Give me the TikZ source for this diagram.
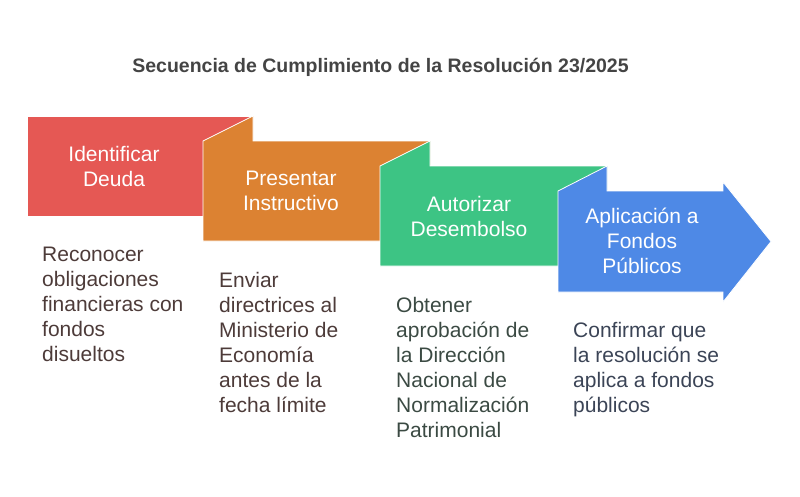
\documentclass[tikz,border=0pt]{standalone}
\usepackage{fontspec}
\setmainfont{Liberation Sans}
\definecolor{redstep}{HTML}{E55854}
\definecolor{orangestep}{HTML}{DC8232}
\definecolor{greenstep}{HTML}{3DC484}
\definecolor{bluestep}{HTML}{4E89E6}
\definecolor{browntext}{HTML}{4D3B39}
\definecolor{greentext}{HTML}{3B4A43}
\definecolor{bluetext}{HTML}{3B4456}
\definecolor{titletext}{HTML}{444444}

\begin{document}
\begin{tikzpicture}[x=1pt, y=-1pt,
        stepbox/.style={draw=white, line width=0.8pt, line join=miter},
        steptitle/.style={text=white, align=center, inner sep=0, font=\fontsize{21}{25}\selectfont},
        desc/.style={align=left, anchor=north west, inner sep=0, font=\fontsize{21}{25}\selectfont}]
            \useasboundingbox (0,0) rectangle (800,496);

            \node[anchor=base, text=titletext, font=\bfseries\fontsize{19.5}{24}\selectfont] (title) at (380.5,72.5) {Secuencia de Cumplimiento de la Resolución 23/2025};

            \path[stepbox, fill=redstep] (27,116) -- (253,116) -- (253,216) -- (27,216) -- cycle;
            \path[stepbox, fill=orangestep] (203,141) -- (253,116) -- (253,141) -- (430,141) -- (430,241) -- (203,241) -- cycle;
            \path[stepbox, fill=greenstep] (380,166) -- (430,141) -- (430,166) -- (607,166) -- (607,266) -- (380,266) -- cycle;
            \path[stepbox, fill=bluestep] (558,191) -- (607,166) -- (607,191) -- (723,191) -- (723,182) -- (771,241.5) -- (723,302) -- (723,292) -- (558,292) -- cycle;

            \node[steptitle] (step1) at (114,166) {Identificar\\Deuda};
            \node[steptitle] (step2) at (291,191) {Presentar\\Instructivo};
            \node[steptitle] (step3) at (469,216) {Autorizar\\Desembolso};
            \node[steptitle] (step4) at (642,241) {Aplicación a\\Fondos\\Públicos};

            \node[desc, text=browntext] (desc1) at (42,247) {Reconocer\\obligaciones\\financieras con\\fondos\\disueltos};
            \node[desc, text=browntext] (desc2) at (219,272) {Enviar\\directrices al\\Ministerio de\\Economía\\antes de la\\fecha límite};
            \node[desc, text=greentext] (desc3) at (396,297) {Obtener\\aprobación de\\la Dirección\\Nacional de\\Normalización\\Patrimonial};
            \node[desc, text=bluetext] (desc4) at (573,322) {Confirmar que\\la resolución se\\aplica a fondos\\públicos};
        \end{tikzpicture}
\end{document}
